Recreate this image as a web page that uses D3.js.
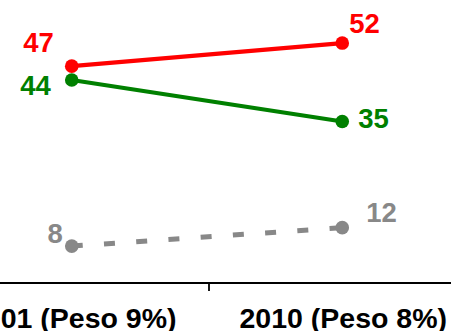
<!DOCTYPE html>
<html>
<head>
<meta charset="utf-8">
<script src="https://cdn.jsdelivr.net/npm/d3@7"></script>
<style>
  html, body { margin: 0; padding: 0; background: #fff; }
  svg { display: block; }
  text { font-family: "Liberation Sans", Arial, sans-serif; font-weight: bold; }
</style>
</head>
<body>
<svg id="chart" width="451" height="331"></svg>
<script>
// Categories (survey years with their weight)
const categories = ["2001 (Peso 9%)", "2010 (Peso 8%)"];

// Series values, one per category
const seriesNames = ["rojo", "verde", "gris"];
const rojo  = [47, 52];
const verde = [44, 35];
const gris  = [8, 12];

// Series colours and line styles
const colors = { rojo: "#ff0000", verde: "#008000", gris: "#888888" };
const dashes = { rojo: null, verde: null, gris: "11,21.3" };
const widths = { rojo: 4.2, verde: 4.2, gris: 5 };

// Value-label placement around each point: [dx, dy, anchor]
const labelPlacement = {
  rojo:  [[-18, -14, "end"], [7, -10, "start"]],
  verde: [[-21, 15, "end"], [16, 6, "start"]],
  gris:  [[-9, -3, "end"], [24, -6, "start"]]
};

const series = [
  { name: "rojo", values: rojo },
  { name: "verde", values: verde },
  { name: "gris", values: gris }
];

const svg = d3.select("#chart");
const width = 451, height = 331;
const axisY = 283;

const x = d3.scaleBand().domain(categories).range([-63.5, 477.5]);
const y = d3.scaleLinear().domain([0, 61]).range([axisY, axisY - 61 * 4.614]);
const cx = c => x(c) + x.bandwidth() / 2;

// Category axis along the bottom
const axis = svg.append("g").attr("transform", `translate(0,${axisY})`);
axis.append("line")
  .attr("x1", 0).attr("x2", width)
  .attr("y1", 0).attr("y2", 0)
  .attr("stroke", "#000").attr("stroke-width", 1.8);
// tick at the boundary between the two categories
axis.selectAll("line.tick")
  .data(categories.slice(1))
  .join("line")
  .attr("class", "tick")
  .attr("x1", d => x(d) + 2).attr("x2", d => x(d) + 2)
  .attr("y1", 0).attr("y2", 8)
  .attr("stroke", "#000").attr("stroke-width", 1.8);
axis.selectAll("text.cat")
  .data(categories)
  .join("text")
  .attr("class", "cat")
  .attr("x", d => cx(d) + 1)
  .attr("y", 45)
  .attr("text-anchor", "middle")
  .attr("font-size", 28.5)
  .attr("fill", "#000")
  .text(d => d);

// Lines
const line = d3.line()
  .x((v, i) => cx(categories[i]))
  .y(v => y(v));

const g = svg.append("g");
series.forEach(s => {
  g.append("path")
    .datum(s.values)
    .attr("d", line)
    .attr("fill", "none")
    .attr("stroke", colors[s.name])
    .attr("stroke-width", widths[s.name])
    .attr("stroke-dasharray", dashes[s.name]);

  g.selectAll(null)
    .data(s.values)
    .join("circle")
    .attr("cx", (v, i) => cx(categories[i]))
    .attr("cy", v => y(v))
    .attr("r", 6.8)
    .attr("fill", colors[s.name]);

  g.selectAll(null)
    .data(s.values)
    .join("text")
    .attr("x", (v, i) => cx(categories[i]) + labelPlacement[s.name][i][0])
    .attr("y", (v, i) => y(v) + labelPlacement[s.name][i][1])
    .attr("text-anchor", (v, i) => labelPlacement[s.name][i][2])
    .attr("font-size", 27.5)
    .attr("fill", colors[s.name])
    .text(v => v);
});
</script>
</body>
</html>
